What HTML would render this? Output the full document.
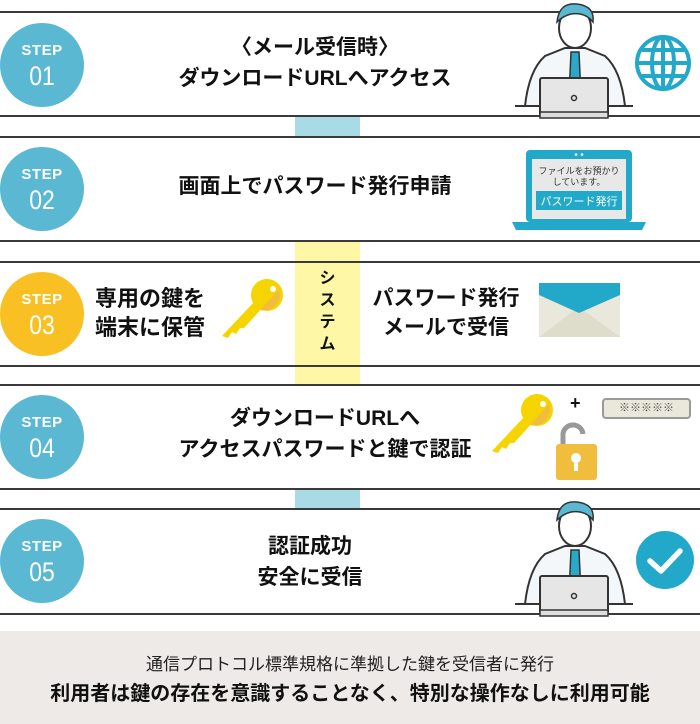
<!DOCTYPE html>
<html><head><meta charset="utf-8"><style>
*{margin:0;padding:0;box-sizing:border-box}
body{width:700px;height:724px;background:#fff;position:relative;overflow:hidden;font-family:"Liberation Sans","Noto Sans CJK JP",sans-serif;color:#111}
.ln{position:absolute;left:0;width:700px;height:2px;background:#3a3a3a}
.c{position:absolute;left:0;width:84px;height:84px;border-radius:50%;background:#5bb8d3;color:#fff;text-align:center}
.c .s{position:absolute;top:19px;width:100%;font-size:15px;font-weight:bold;letter-spacing:0.5px}
.c .n{position:absolute;top:38px;width:100%;font-size:27px;transform:scaleX(0.85)}
.t{position:absolute;font-size:20px;font-weight:bold;line-height:31px;text-align:center;white-space:nowrap}
.bar{position:absolute;left:295px;width:65px}
svg{position:absolute}
</style></head><body>
<div class="bar" style="top:117px;height:20px;background:#a9dbe6"></div>
<div class="bar" style="top:242px;height:143px;background:#fef8a6"></div>
<div class="bar" style="top:490px;height:20px;background:#a9dbe6"></div>
<div class="t" style="left:295px;top:268px;width:65px;font-size:16px;line-height:22px">シ<br>ス<br>テ<br>ム</div>

<div class="ln" style="top:11px"></div><div class="ln" style="top:115px"></div>
<div class="ln" style="top:136px"></div><div class="ln" style="top:240px"></div>
<div class="ln" style="top:261px"></div><div class="ln" style="top:365px"></div>
<div class="ln" style="top:384px"></div><div class="ln" style="top:488px"></div>
<div class="ln" style="top:508px"></div><div class="ln" style="top:613px"></div>

<div class="c" style="top:23px"><div class="s">STEP</div><div class="n">01</div></div>
<div class="c" style="top:147px"><div class="s">STEP</div><div class="n">02</div></div>
<div class="c" style="top:272px;background:#f8c022"><div class="s">STEP</div><div class="n">03</div></div>
<div class="c" style="top:395px"><div class="s">STEP</div><div class="n">04</div></div>
<div class="c" style="top:519px"><div class="s">STEP</div><div class="n">05</div></div>

<div class="t" style="left:150px;top:32px;width:330px;font-size:21px">〈メール受信時〉<br>ダウンロードURLへアクセス</div>
<div class="t" style="left:150px;top:171px;width:330px;font-size:21px">画面上でパスワード発行申請</div>
<div class="t" style="left:95px;top:284px;text-align:left;font-size:22px;line-height:29px">専用の鍵を<br>端末に保管</div>
<div class="t" style="left:360px;top:284px;width:172px;font-size:21px;line-height:29px">パスワード発行<br>メールで受信</div>
<div class="t" style="left:150px;top:403px;width:350px;font-size:21px">ダウンロードURLへ<br>アクセスパスワードと鍵で認証</div>
<div class="t" style="left:220px;top:531px;width:180px;font-size:21px;line-height:31px">認証成功<br>安全に受信</div>

<svg style="left:515px;top:0" width="120" height="125" viewBox="0 0 120 125">
 <path d="M10 106 Q14 70 30 56 L50 48 L70 48 L90 56 Q106 70 110 106 Z" fill="#f4f7f9" stroke="#333" stroke-width="2"/>
 <path d="M56 52 L64 52 L66 96 L60 102 L54 96 Z" fill="#2aa8c9" stroke="#333" stroke-width="1.5"/>
 <ellipse cx="60" cy="28" rx="16" ry="20" fill="#fff" stroke="#333" stroke-width="2"/>
 <path d="M42 22 Q44 2 62 4 Q80 6 78 22 Q70 12 56 14 Q48 16 42 22Z" fill="#5bb8d3" stroke="#333" stroke-width="1.5"/>
 <rect x="25" y="78" width="68" height="38" rx="2" fill="#e6e6e6" stroke="#333" stroke-width="2"/>
 <rect x="25" y="112" width="68" height="6" fill="#ddd" stroke="#333" stroke-width="1.5"/>
 <circle cx="59" cy="98" r="2.5" fill="none" stroke="#333" stroke-width="1.5"/>
 <line x1="0" y1="106" x2="25" y2="106" stroke="#333" stroke-width="2"/>
 <line x1="93" y1="106" x2="118" y2="106" stroke="#333" stroke-width="2"/>
</svg>
<svg style="left:515px;top:498px" width="120" height="125" viewBox="0 0 120 125">
 <path d="M10 106 Q14 70 30 56 L50 48 L70 48 L90 56 Q106 70 110 106 Z" fill="#f4f7f9" stroke="#333" stroke-width="2"/>
 <path d="M56 52 L64 52 L66 96 L60 102 L54 96 Z" fill="#2aa8c9" stroke="#333" stroke-width="1.5"/>
 <ellipse cx="60" cy="28" rx="16" ry="20" fill="#fff" stroke="#333" stroke-width="2"/>
 <path d="M42 22 Q44 2 62 4 Q80 6 78 22 Q70 12 56 14 Q48 16 42 22Z" fill="#5bb8d3" stroke="#333" stroke-width="1.5"/>
 <rect x="25" y="78" width="68" height="38" rx="2" fill="#e6e6e6" stroke="#333" stroke-width="2"/>
 <rect x="25" y="112" width="68" height="6" fill="#ddd" stroke="#333" stroke-width="1.5"/>
 <circle cx="59" cy="98" r="2.5" fill="none" stroke="#333" stroke-width="1.5"/>
 <line x1="0" y1="106" x2="25" y2="106" stroke="#333" stroke-width="2"/>
 <line x1="93" y1="106" x2="118" y2="106" stroke="#333" stroke-width="2"/>
</svg>

<svg style="left:634px;top:34px" width="58" height="58" viewBox="0 0 58 58" fill="none" stroke="#22a9c9" stroke-width="4">
 <circle cx="29" cy="29" r="26"/><ellipse cx="29" cy="29" rx="11" ry="26"/>
 <line x1="29" y1="3" x2="29" y2="55"/><line x1="3" y1="29" x2="55" y2="29"/>
 <path d="M8 16 H50 M8 42 H50"/>
</svg>

<svg style="left:512px;top:150px" width="134" height="82" viewBox="0 0 134 82">
 <rect x="14" y="0" width="106" height="72" rx="4" fill="#22a9c9"/>
 <rect x="20" y="9" width="94" height="60" fill="#e8e8e8"/>
 <circle cx="64" cy="4.5" r="1.3" fill="#fff"/><circle cx="70" cy="4.5" r="1.3" fill="#fff"/>
 <path d="M0 72 H134 L130 80 H4 Z" fill="#22a9c9"/>
 <text x="67" y="24" font-size="9" text-anchor="middle" fill="#333" font-family="Liberation Sans,Noto Sans CJK JP,sans-serif">ファイルをお預かり</text>
 <text x="67" y="35" font-size="9" text-anchor="middle" fill="#333" font-family="Liberation Sans,Noto Sans CJK JP,sans-serif">しています。</text>
 <rect x="24" y="41" width="86" height="19" fill="#22a9c9"/>
 <text x="67" y="55" font-size="11" text-anchor="middle" fill="#fff" font-family="Liberation Sans,Noto Sans CJK JP,sans-serif">パスワード発行</text>
</svg>

<svg style="left:220px;top:278px" width="66" height="62" viewBox="0 0 66 62">
 <path d="M36 22 L2 58 L8 60 L12 54 L16 56 L20 50 L24 50 L44 28 Z" fill="#f6d400"/>
 <circle cx="47" cy="17" r="16" fill="#f6d400"/>
 <path d="M55 5 A16 16 0 0 1 40 32 L60 10Z" fill="#f1bd3d"/>
 <circle cx="53" cy="11" r="3" fill="#fff"/>
</svg>

<svg style="left:539px;top:283px" width="81" height="54" viewBox="0 0 81 54">
 <rect width="81" height="54" fill="#e9e8da"/>
 <path d="M0 54 L40 24 L81 54Z" fill="#deddcc"/>
 <path d="M0 0 H81 V12 L40 30 L0 12Z" fill="#22a9c9"/>
</svg>

<svg style="left:490px;top:393px" width="66" height="62" viewBox="0 0 66 62">
 <path d="M36 22 L2 58 L8 60 L12 54 L16 56 L20 50 L24 50 L44 28 Z" fill="#f6d400"/>
 <circle cx="47" cy="17" r="16" fill="#f6d400"/>
 <path d="M55 5 A16 16 0 0 1 40 32 L60 10Z" fill="#f1bd3d"/>
 <circle cx="53" cy="11" r="3" fill="#fff"/>
</svg>
<div style="position:absolute;left:570px;top:393px;font-size:18px;font-weight:bold">+</div>
<div style="position:absolute;left:602px;top:398px;width:89px;height:21px;border:2px solid #999;border-radius:4px;background:#e9e8da;font-size:11px;color:#555;text-align:center;line-height:17px">※※※※※</div>
<svg style="left:555px;top:422px" width="46" height="60" viewBox="0 0 46 60">
 <path d="M8 22 V14 A10 10 0 0 1 28 12" fill="none" stroke="#999" stroke-width="5"/>
 <rect x="1" y="22" width="41" height="36" rx="3" fill="#f1bd3d"/>
 <circle cx="21" cy="36" r="5" fill="#fff"/><rect x="19" y="38" width="4" height="11" fill="#fff"/>
</svg>

<svg style="left:636px;top:531px" width="58" height="58" viewBox="0 0 58 58">
 <circle cx="29" cy="29" r="29" fill="#22a9c9"/>
 <path d="M14 30 L25 40 L44 20" fill="none" stroke="#fff" stroke-width="5.5" stroke-linecap="round" stroke-linejoin="round"/>
</svg>

<div style="position:absolute;left:0;top:631px;width:700px;height:93px;background:#edeae7"></div>
<div style="position:absolute;left:0;top:650px;width:700px;text-align:center;font-size:17px;color:#222">通信プロトコル標準規格に準拠した鍵を受信者に発行</div>
<div style="position:absolute;left:0;top:677px;width:700px;text-align:center;font-size:20px;font-weight:bold">利用者は鍵の存在を意識することなく、特別な操作なしに利用可能</div>
</body></html>
